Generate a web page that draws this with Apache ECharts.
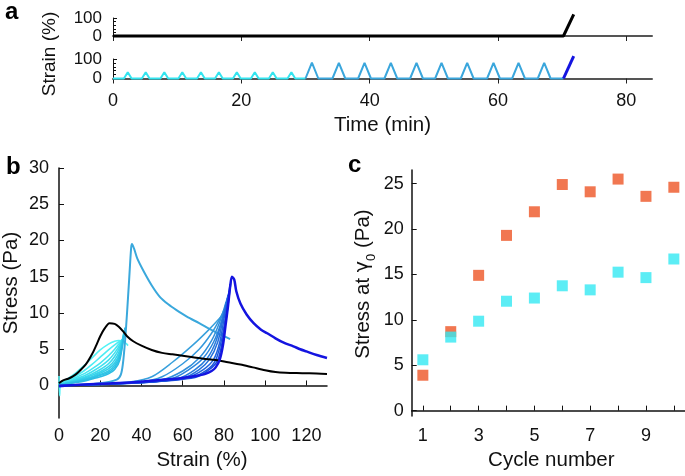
<!DOCTYPE html>
<html><head><meta charset="utf-8">
<script src="https://cdn.jsdelivr.net/npm/echarts@6/dist/echarts.min.js"></script>
<style>html,body{margin:0;padding:0;background:#fff}#c{width:685px;height:476px}</style>
</head><body><div id="c"></div>
<script>
// ---------- Panel a: strain protocols ----------
const timeTicks = [0, 20, 40, 60, 80];
const refTime = [0, 70.2, 71.8];
const refStrain = [0, 0, 120];
const smallTime = [0, 1.7, 2.3, 2.9, 4.5, 5.1, 5.7, 7.4, 8.0, 8.6, 10.2, 10.8, 11.4, 13.1, 13.7, 14.3, 15.9, 16.5, 17.1, 18.7, 19.3, 19.9, 21.5, 22.1, 22.7, 24.3, 24.9, 25.5, 27.2, 27.8, 28.4, 30.0];
const smallStrain = [0, 0, 32, 0, 0, 32, 0, 0, 32, 0, 0, 32, 0, 0, 32, 0, 0, 32, 0, 0, 32, 0, 0, 32, 0, 0, 32, 0, 0, 32, 0, 0];
const largeTime = [30.0, 31.0, 32.0, 34.2, 35.2, 36.2, 38.2, 39.2, 40.2, 42.3, 43.3, 44.3, 46.3, 47.3, 48.3, 50.2, 51.2, 52.2, 54.2, 55.2, 56.2, 58.3, 59.3, 60.3, 62.2, 63.2, 64.2, 66.2, 67.2, 68.2, 70.2];
const largeStrain = [0, 82, 0, 0, 80, 0, 0, 80, 0, 0, 80, 0, 0, 80, 0, 0, 80, 0, 0, 80, 0, 0, 80, 0, 0, 80, 0, 0, 80, 0, 0];
const rampTime = [70.2, 71.8];
const rampStrain = [0, 115];

// ---------- Panel b: stress-strain curves ----------
const curveBlack = [[0,0.3],[2,0.7],[5,1.0],[8,1.5],[10,2.0],[13,2.9],[16,4.3],[18,5.5],[20,6.8],[22,7.8],[24.5,8.6],[27,8.5],[29,8.1],[31,7.5],[33,6.8],[36,6.1],[40,5.5],[45,4.9],[50,4.5],[55,4.3],[60,4.1],[65,3.9],[70,3.7],[76,3.5],[82,3.2],[88,2.9],[94,2.5],[100,2.1],[105,1.85],[110,1.75],[118,1.7],[125,1.65],[130,1.6]];
const cyc1 = [[0,1.3],[0.3,-1.4],[0.8,0.3],[4,0.9],[8,1.7],[12,2.7],[16,3.8],[20,4.9],[24,5.7],[27,6.1],[29,6.2],[31,6.1],[32.5,5.8],[33.5,5.5]];
const cyc2 = [[0,0.2],[4,0.7],[8,1.3],[12,2.0],[16,2.9],[20,3.9],[24,4.9],[27,5.6],[29.5,6.1],[31.5,6.3]];
const cyc3 = [[0,0.2],[4,0.6],[8,1.1],[12,1.6],[16,2.3],[20,3.1],[24,4.1],[27,5.0],[29.5,5.9],[31.5,6.6]];
const cyc4 = [[0,0.2],[4,0.5],[8,0.9],[12,1.3],[16,1.9],[20,2.6],[24,3.5],[27,4.5],[29.5,5.6],[31.5,6.8]];
const cyc5 = [[0,0.1],[4,0.4],[8,0.8],[12,1.1],[16,1.6],[20,2.2],[24,3.0],[27,4.0],[29.5,5.3],[31.5,7.0]];
const cyc6 = [[0,0.1],[4,0.4],[8,0.7],[12,1.0],[16,1.4],[20,1.9],[24,2.6],[27,3.5],[29.5,4.9],[31.5,7.2]];
const cyc7 = [[0,0.1],[4,0.3],[8,0.6],[12,0.9],[16,1.2],[20,1.7],[24,2.3],[27,3.1],[29.5,4.5],[31.5,7.4]];
const cyc8 = [[0,0.1],[4,0.3],[8,0.5],[12,0.8],[16,1.1],[20,1.5],[24,2.0],[27,2.8],[29.5,4.2],[31.8,7.6]];
const cyc9 = [[0,0.1],[4,0.3],[8,0.5],[12,0.7],[16,1.0],[20,1.4],[24,1.8],[27,2.5],[29.5,3.9],[32,7.8]];
const cyc10 = [[0,0.1],[4,0.2],[8,0.4],[12,0.6],[16,0.9],[20,1.2],[24,1.6],[27,2.2],[29.5,3.5],[32,8.0]];
const cyc11 = [[0,0],[10,0.1],[20,0.3],[28,0.8],[30,1.5],[31,3],[32,6],[33,10],[34,14.5],[35,19],[35.4,19.5],[36.5,18.8],[38,17.5],[41,15.8],[45,13.8],[49,12.2],[53,11.2],[57,10.4],[62,9.5],[68,8.6],[73,7.8],[77,7.2],[80,6.8],[83,6.4]];
const cyc12 = [[0,0],[20,0.2],[35,0.5],[45,1.2],[55,3.2],[65,5.6],[72,7.5],[78,9.3],[80.5,10.2]];
const cyc13 = [[0,0],[20,0.2],[40,0.5],[50,1.2],[60,3.0],[68,5.0],[74,7.2],[78,9.2],[81,11]];
const cyc14 = [[0,0],[30,0.3],[50,0.8],[60,2.0],[68,3.8],[74,6.2],[78,8.8],[81,11.5]];
const cyc15 = [[0,0],[30,0.3],[55,1.0],[63,2.2],[70,3.8],[75,6.0],[79,9.0],[81.5,12]];
const cyc16 = [[0,0],[35,0.3],[58,1.0],[66,2.2],[72,3.8],[76,6],[79.5,9.5],[82,12.5]];
const cyc17 = [[0,0],[35,0.3],[60,1.0],[68,2.2],[73,3.6],[77,6],[80,9.8],[82.5,13]];
const cyc18 = [[0,0],[40,0.4],[62,1.1],[70,2.2],[75,3.6],[78,6],[80.5,10],[83,13.5]];
const cyc19 = [[0,0],[40,0.4],[64,1.1],[72,2.2],[76,3.5],[79,6.5],[81,10],[83,14]];
const cyc20 = [[0,0],[40,0.4],[66,1.1],[73,2.2],[77,3.5],[79.5,6.5],[81.5,10],[83.5,14.5]];
const curveRamp = [[0,-0.1],[10,0.1],[20,0.25],[36,0.45],[50,0.8],[59,1.0],[66,1.3],[71,1.6],[74,2.0],[76,2.5],[78,3.6],[79.5,5.5],[80.7,8.1],[82,11],[83,13.6],[83.9,15],[85,14.6],[86,13],[88,11.3],[91,9.8],[94.4,8.6],[98,7.7],[101,7.2],[105,6.5],[109,5.9],[113.7,5.4],[117,5.0],[120,4.7],[125,4.2],[130,3.8]];
const cyanCurves = [cyc1, cyc2, cyc3, cyc4, cyc5, cyc6, cyc7, cyc8, cyc9, cyc10];
const cyanColors = ['#52f2f5','#4cecf3','#46e6f1','#41e0ef','#3ddaed','#39d4eb','#35cee9','#32c8e7','#2fc2e5','#2cbce3'];
const blueCurves = [cyc11, cyc12, cyc13, cyc14, cyc15, cyc16, cyc17, cyc18, cyc19, cyc20];
const blueColors = ['#3aa8dc','#38a0dc','#3498dc','#3090dc','#2c86dc','#287cdc','#2470dc','#2064dc','#1c58dc','#184cdc'];
const bXTicks = [0, 20, 40, 60, 80, 100, 120];
const bYTicks = [0, 5, 10, 15, 20, 25, 30];

// ---------- Panel c: stress at gamma0 vs cycle ----------
const cycles = [1, 2, 3, 4, 5, 6, 7, 8, 9, 10];
const stressOrange = [3.9, 8.7, 14.9, 19.3, 21.9, 24.9, 24.1, 25.5, 23.6, 24.6];
const stressCyan = [5.6, 8.1, 9.85, 12.05, 12.4, 13.75, 13.3, 15.25, 14.65, 16.7];
const cLabelCycles = [1, 3, 5, 7, 9];
const cYTicks = [0, 5, 10, 15, 20, 25];

const FONT = 'Liberation Sans, Arial, Helvetica, sans-serif';
const zip = (a, b) => a.map((v, i) => [v, b[i]]);

const chart = echarts.init(document.getElementById('c'), null, {renderer: 'canvas'});

const lbl = {fontFamily: FONT, fontSize: 18, color: '#111'};
const nameStyle = {fontFamily: FONT, fontSize: 20.5, color: '#111'};

const aX = (gi, showLabel) => ({
  type: 'value', gridIndex: gi, min: 0, max: 84,
  axisLine: {show: true, lineStyle: {color: '#555', width: 2}},
  axisTick: {show: true, inside: false, length: 5, customValues: timeTicks, lineStyle: {color: '#222', width: 1}},
  axisLabel: Object.assign({show: showLabel, margin: 14, customValues: timeTicks}, lbl),
  splitLine: {show: false},
  name: showLabel ? 'Time (min)' : '', nameLocation: 'middle', nameGap: 36, nameTextStyle: nameStyle
});
const aY = (gi) => ({
  type: 'value', gridIndex: gi, min: 0, max: 100, interval: 100,
  axisLine: {show: true, lineStyle: {color: '#111', width: 1}},
  axisTick: {show: true, inside: true, length: 4, lineStyle: {color: '#111'}},
  minorTick: {show: true, splitNumber: 5, length: 3, lineStyle: {color: '#111'}},
  axisLabel: Object.assign({margin: 11}, lbl, {fontSize: 17}),
  splitLine: {show: false}
});

const series = [];
series.push({type: 'line', xAxisIndex: 0, yAxisIndex: 0, data: zip(refTime, refStrain), symbol: 'none', clip: false, lineStyle: {color: '#000', width: 3}, z: 5});
series.push({type: 'line', xAxisIndex: 1, yAxisIndex: 1, data: zip(smallTime, smallStrain), symbol: 'none', clip: false, lineStyle: {color: '#33e4ef', width: 2}, z: 5});
series.push({type: 'line', xAxisIndex: 1, yAxisIndex: 1, data: zip(largeTime, largeStrain), symbol: 'none', clip: false, lineStyle: {color: '#3aa6dc', width: 2}, z: 5});
series.push({type: 'line', xAxisIndex: 1, yAxisIndex: 1, data: zip(rampTime, rampStrain), symbol: 'none', clip: false, lineStyle: {color: '#1414e0', width: 3}, z: 5});

cyanCurves.forEach((d, i) => series.push({type: 'line', xAxisIndex: 2, yAxisIndex: 2, data: d, symbol: 'none', smooth: 0.3, lineStyle: {color: cyanColors[i], width: 1.6}}));
blueCurves.forEach((d, i) => series.push({type: 'line', xAxisIndex: 2, yAxisIndex: 2, data: d, symbol: 'none', smooth: 0.3, lineStyle: {color: blueColors[i], width: i === 0 ? 2 : 1.5}}));
series.push({type: 'line', xAxisIndex: 2, yAxisIndex: 2, data: curveBlack, symbol: 'none', smooth: 0.3, lineStyle: {color: '#000', width: 2}});
series.push({type: 'line', xAxisIndex: 2, yAxisIndex: 2, data: curveRamp, symbol: 'none', smooth: 0.3, lineStyle: {color: '#1414e0', width: 2.5}});

series.push({type: 'scatter', xAxisIndex: 3, yAxisIndex: 3, data: zip(cycles, stressOrange), symbol: 'rect', symbolSize: 11, itemStyle: {color: '#ee5526'}});
series.push({type: 'scatter', xAxisIndex: 3, yAxisIndex: 3, data: zip(cycles, stressCyan), symbol: 'rect', symbolSize: 11, itemStyle: {color: '#33e8f2'}});

const option = {
  animation: false,
  backgroundColor: '#fff',
  textStyle: {fontFamily: FONT},
  grid: [
    {left: 113, top: 18, width: 539, height: 18},
    {left: 113, top: 59, width: 539, height: 19.5},
    {left: 57.5, top: 168, width: 269.5, height: 255.5},
    {left: 411.7, top: 170, width: 273.3, height: 255}
  ],
  xAxis: [
    aX(0, false),
    aX(1, true),
    {type: 'value', gridIndex: 2, min: 0, max: 130,
      axisLine: {show: true, lineStyle: {color: '#111', width: 1.5}},
      axisTick: {show: true, inside: true, length: 5, customValues: bXTicks, lineStyle: {color: '#111'}},
      axisLabel: Object.assign({margin: 9, customValues: bXTicks}, lbl), splitLine: {show: false},
      name: 'Strain (%)', nameLocation: 'middle', nameGap: 31,
      nameTextStyle: Object.assign({padding: [0, 0, 0, 18]}, nameStyle)},
    {type: 'value', gridIndex: 3, min: 0.6, max: 10.4,
      axisLine: {show: true, lineStyle: {color: '#111', width: 1.5}},
      axisTick: {show: true, inside: true, length: 5, customValues: cycles, lineStyle: {color: '#111'}},
      axisLabel: Object.assign({margin: 11, customValues: cLabelCycles}, lbl), splitLine: {show: false},
      name: 'Cycle number', nameLocation: 'middle', nameGap: 33,
      nameTextStyle: Object.assign({padding: [0, 0, 0, 6]}, nameStyle)}
  ],
  yAxis: [
    aY(0),
    aY(1),
    {type: 'value', gridIndex: 2, min: -4.5, max: 30,
      axisLine: {show: true, lineStyle: {color: '#111', width: 1.5}},
      axisTick: {show: true, inside: true, length: 5, customValues: bYTicks, lineStyle: {color: '#111'}},
      axisLabel: Object.assign({margin: 10, customValues: bYTicks}, lbl), splitLine: {show: false},
      name: 'Stress (Pa)', nameLocation: 'middle', nameGap: 37,
      nameTextStyle: Object.assign({padding: [0, 0, 0, 20]}, nameStyle)},
    {type: 'value', gridIndex: 3, min: -0.6, max: 26.5,
      axisLine: {show: true, lineStyle: {color: '#111', width: 1.5}},
      axisTick: {show: true, inside: true, length: 5, customValues: cYTicks, lineStyle: {color: '#111'}},
      axisLabel: Object.assign({margin: 8, customValues: cYTicks}, lbl), splitLine: {show: false},
      name: '{t|Stress at }{g|γ}{s|0}{t| (Pa)}', nameLocation: 'middle', nameGap: 38,
      nameTextStyle: {fontFamily: FONT, fontSize: 20.5, color: '#111', padding: [0, 0, 0, 18],
        rich: {t: {fontFamily: FONT, fontSize: 20.5, color: '#111'},
               g: {fontFamily: 'DejaVu Sans', fontSize: 19, color: '#111'},
               s: {fontFamily: FONT, fontSize: 13, color: '#111', verticalAlign: 'bottom', padding: [0, 0, -4, 0]}}}}
  ],
  graphic: [
    {type: 'text', left: 5, top: 0, style: {text: 'a', font: 'bold 24px ' + FONT, fill: '#000'}},
    {type: 'text', left: 6, top: 155, style: {text: 'b', font: 'bold 24px ' + FONT, fill: '#000'}},
    {type: 'text', left: 348, top: 153, style: {text: 'c', font: 'bold 24px ' + FONT, fill: '#000'}},
    {type: 'text', x: 50, y: 54, rotation: Math.PI / 2, style: {text: 'Strain (%)', font: '19px ' + FONT, fill: '#111', align: 'center', verticalAlign: 'middle'}}
  ],
  series: series
};
chart.setOption(option);
</script>
</body></html>
